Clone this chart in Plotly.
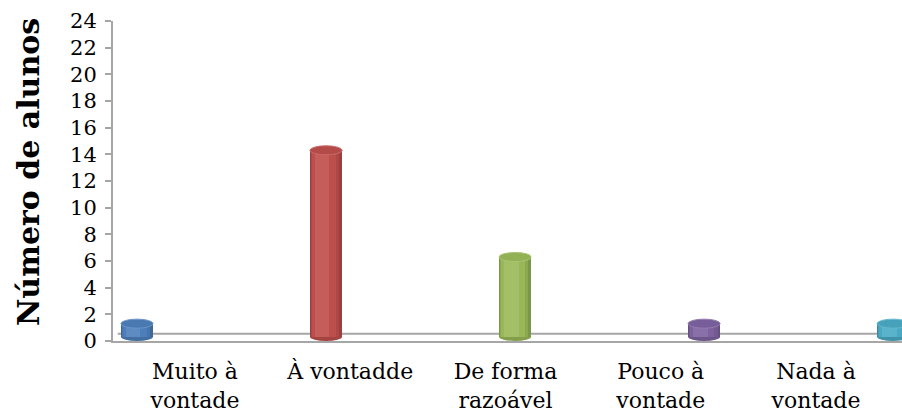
import plotly.graph_objects as go

# ---- data ----
categories = ["Muito à<br>vontade", "À vontadde", "De forma<br>razoável", "Pouco à<br>vontade", "Nada à<br>vontade"]
values = [1, 14, 6, 1, 1]
y_ticks = list(range(0, 25, 2))
colors = ["#4F81BD", "#C0504D", "#9BBB59", "#8064A2", "#4BACC6"]


def _rgb(h):
    h = h.lstrip("#")
    return [int(h[i:i + 2], 16) for i in (0, 2, 4)]


def blend(h, target, t):
    c = _rgb(h)
    tg = _rgb(target)
    return "#%02x%02x%02x" % tuple(int(round(a + (b - a) * t)) for a, b in zip(c, tg))


FONT = "Georgia, 'DejaVu Serif', serif"
BASE = 0.3       # floor depth offset (visual)
W = 0.17         # cylinder width in bar-axis units
CAP = 0.34       # half height of the ellipse caps (y units)
pos = list(range(len(values)))

fig = go.Figure()

# empty trace so the label axis is present
fig.add_trace(go.Scatter(x=[], y=[], xaxis="x", yaxis="y", showlegend=False, hoverinfo="skip"))

# cylinder side shading layers: (width, offset, shade fn)
layers = [
    (W, -W / 2, lambda c: blend(c, "#000000", 0.20)),
    (W * 0.90, -W / 2 + 0.003, lambda c: blend(c, "#000000", 0.10)),
    (W * 0.74, -W / 2 + 0.010, lambda c: blend(c, "#000000", 0.02)),
    (W * 0.46, -W / 2 + 0.025, lambda c: blend(c, "#ffffff", 0.08)),
]
for w, off, fn in layers:
    fig.add_trace(go.Bar(
        x=pos, y=values, base=[BASE] * len(values),
        width=[w] * len(values), offset=[off] * len(values),
        marker=dict(color=[fn(c) for c in colors], line=dict(width=0)),
        xaxis="x2", yaxis="y", showlegend=False, hoverinfo="skip",
    ))

shapes = []
# back edge of the floor
shapes.append(dict(type="line", xref="paper", yref="y", x0=0.006, x1=1, y0=BASE * 2 - 0.05, y1=BASE * 2 - 0.05,
                   line=dict(color="#a6a6a6", width=2), layer="below"))
for i, (v, c) in enumerate(zip(values, colors)):
    # bottom ellipse (beneath the bar body)
    shapes.append(dict(type="circle", xref="x2", yref="y", x0=i - W / 2, x1=i + W / 2,
                       y0=BASE - CAP + 0.04, y1=BASE + CAP,
                       fillcolor=blend(c, "#000000", 0.15), line=dict(width=0), layer="below"))
    # top ellipse
    top = v + BASE
    shapes.append(dict(type="circle", xref="x2", yref="y", x0=i - W / 2, x1=i + W / 2,
                       y0=top - CAP, y1=top + CAP,
                       fillcolor=blend(c, "#000000", 0.06),
                       line=dict(color=blend(c, "#ffffff", 0.15), width=1), layer="above"))

fig.update_layout(
    width=902, height=412,
    margin=dict(l=113, r=0, t=21, b=71),
    paper_bgcolor="white", plot_bgcolor="white",
    barmode="overlay", bargap=0,
    showlegend=False,
    font=dict(family=FONT, color="#000000"),
    xaxis=dict(
        range=[-0.528, 4.554], tickmode="array", tickvals=pos, ticktext=categories,
        showgrid=False, zeroline=False, showline=True, linecolor="#a6a6a6", linewidth=2,
        ticks="", tickfont=dict(size=22, family=FONT, color="#000000"),
        ticklabelstandoff=10, fixedrange=True,
    ),
    xaxis2=dict(range=[-0.127, 4.047], overlaying="x", visible=False, fixedrange=True),
    yaxis=dict(
        range=[0, 24], tickmode="array", tickvals=y_ticks, ticktext=[str(t) for t in y_ticks],
        showgrid=False, zeroline=False, showline=True, linecolor="#a6a6a6", linewidth=2,
        ticks="outside", ticklen=6, tickcolor="#a6a6a6", tickwidth=1.5,
        tickfont=dict(size=21, family=FONT, color="#000000"), ticklabelstandoff=4,
        fixedrange=True,
    ),
    shapes=shapes,
    annotations=[dict(
        text="<b>Número de alunos</b>", textangle=-90, xref="paper", yref="paper",
        x=-0.1077, y=0.528, xanchor="center", yanchor="middle", showarrow=False,
        font=dict(size=30, family=FONT, color="#000000"),
    )],
)

fig.write_html(
    "out.html",
    config={"displayModeBar": False},
    post_script="document.body.style.margin='0';document.body.style.overflow='hidden';",
)
